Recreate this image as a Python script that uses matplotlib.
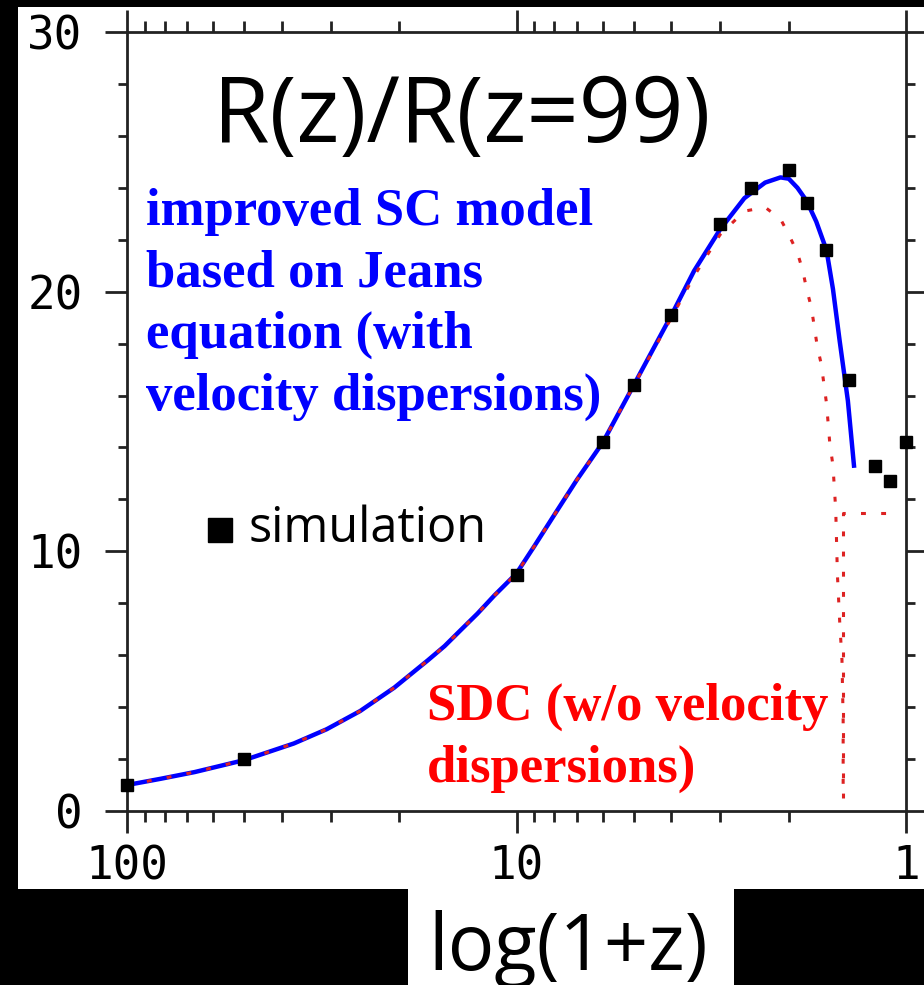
import matplotlib
matplotlib.use("Agg")
import matplotlib.pyplot as plt
from matplotlib.patches import Rectangle
from matplotlib.ticker import FixedLocator, FixedFormatter, LogLocator, MultipleLocator, NullFormatter

# simulation points (1+z, R(z)/R(z=99))
sim_x = [100, 50, 10, 6, 5, 4, 3, 2.5, 2.0, 1.8, 1.6, 1.4, 1.2, 1.1, 1.0]
sim_y = [1.0, 2.0, 9.1, 14.2, 16.4, 19.1, 22.6, 24.0, 24.7, 23.4, 21.6, 16.6, 13.3, 12.7, 14.2]

# improved SC model (Jeans equation)
sc_x = [100, 82, 67, 50, 37.3, 30.7, 25.2, 20.6, 16.9, 15.3, 13.9, 12.6, 11.4, 10, 9, 8, 7, 6, 5,
        4, 3.5, 3, 2.6, 2.3, 2.1, 2.0, 1.9, 1.8, 1.7, 1.6, 1.54, 1.48, 1.41, 1.36]
sc_y = [1.0, 1.24, 1.5, 1.96, 2.6, 3.15, 3.85, 4.75, 5.8, 6.35, 6.97, 7.6, 8.3, 9.15, 10.2, 11.4,
        12.75, 14.2, 16.4, 19.1, 20.8, 22.4, 23.6, 24.2, 24.4, 24.35, 24.0, 23.5, 22.7, 21.6, 20.1,
        18.1, 15.8, 13.3]

# SDC model (no velocity dispersions)
sdc_x = [100, 82, 67, 50, 37.3, 30.7, 25.2, 20.6, 16.9, 15.3, 13.9, 12.6, 11.4, 10, 9, 8, 7, 6, 5,
         4, 3.5, 3, 2.6, 2.3, 2.1, 2.0, 1.9, 1.84, 1.8, 1.75, 1.69, 1.65, 1.6, 1.57, 1.54,
         1.515, 1.5, 1.48, 1.46, 1.45, 1.45]
sdc_y = [1.0, 1.24, 1.5, 1.96, 2.6, 3.15, 3.85, 4.75, 5.8, 6.35, 6.97, 7.6, 8.3, 9.15, 10.2, 11.4,
         12.75, 14.2, 16.4, 19.0, 20.6, 22.2, 23.1, 23.25, 22.8, 22.2, 21.5, 20.8, 20.1, 19.4,
         17.9, 17.2, 15.7, 14.2, 13.3, 11.6, 9.1, 7.3, 5.8, 3.5, 0.5]
sdc2_x = [1.45, 1.45, 1.08]
sdc2_y = [0.5, 11.47, 11.47]

xticks = [100, 10, 1]
xlabels = ["100", "10", "1"]
yticks = [0, 10, 20, 30]

W, H = 924, 985


def fx(x):
    return x / W


def fy(y):
    return 1 - y / H


fig = plt.figure(figsize=(W / 100, H / 100), dpi=100, facecolor="black")
fig.add_artist(Rectangle((fx(18), fy(889)), fx(906), 882 / H, transform=fig.transFigure,
                         facecolor="white", edgecolor="none", zorder=-1))
fig.add_artist(Rectangle((fx(408), 0), fx(326), 96 / H, transform=fig.transFigure,
                         facecolor="white", edgecolor="none", zorder=-1))

ax = fig.add_axes([fx(127), fy(811), fx(779), 779 / H])
ax.set_xscale("log")
ax.set_xlim(100, 1)
ax.set_ylim(0, 30)

ax.plot(sc_x, sc_y, color="#0000ff", lw=3.2, zorder=2)
ax.plot(sdc_x, sdc_y, color="#dd2222", lw=2.2, ls=(0, (1.6, 5)), zorder=3)
ax.plot(sdc2_x, sdc2_y, color="#dd2222", lw=2.2, ls=(0, (1.6, 5)), zorder=3)
ax.plot(sim_x, sim_y, "s", color="black", ms=8.5, zorder=4, clip_on=False)

# axes styling
for s in ax.spines.values():
    s.set_linewidth(2)
    s.set_color("#222222")
ax.xaxis.set_major_locator(FixedLocator(xticks))
ax.xaxis.set_major_formatter(FixedFormatter(xlabels))
ax.xaxis.set_minor_locator(LogLocator(base=10, subs=range(2, 10)))
ax.xaxis.set_minor_formatter(NullFormatter())
ax.set_yticks(yticks)
ax.yaxis.set_minor_locator(MultipleLocator(2))
ax.tick_params(which="both", direction="out", top=True, right=True, width=2, color="#222222")
ax.tick_params(which="major", length=16)
ax.tick_params(axis="x", which="minor", length=8)
ax.tick_params(axis="y", which="minor", length=6.5)
ax.tick_params(axis="x", which="major", pad=8, labelsize=33)
ax.tick_params(axis="y", which="major", pad=16, labelsize=33)
for lab in ax.get_xticklabels() + ax.get_yticklabels():
    lab.set_family("DejaVu Sans Mono")

# texts
fig.text(fx(213), fy(142), "R(z)/R(z=99)", fontsize=66, family="Open Sans",
         ha="left", va="baseline")
fig.text(fx(146), fy(188), "improved SC model\nbased on Jeans\nequation (with\nvelocity dispersions)",
         fontsize=38, family="Liberation Serif", weight="bold", color="#0000ff",
         ha="left", va="top", linespacing=1.36, zorder=5)
fig.text(fx(427), fy(683), "SDC (w/o velocity\ndispersions)",
         fontsize=38, family="Liberation Serif", weight="bold", color="#ff0000",
         ha="left", va="top", linespacing=1.36)
ax.plot([fx(220)], [fy(530)], "s", color="black", ms=17, transform=fig.transFigure, clip_on=False)
fig.text(fx(249), fy(542), "simulation", fontsize=35, family="Open Sans", ha="left", va="baseline")
fig.text(fx(568), fy(970), "log(1+z)", fontsize=56, family="Open Sans", ha="center", va="baseline")

fig.savefig("out.png", dpi=100, facecolor="black")
